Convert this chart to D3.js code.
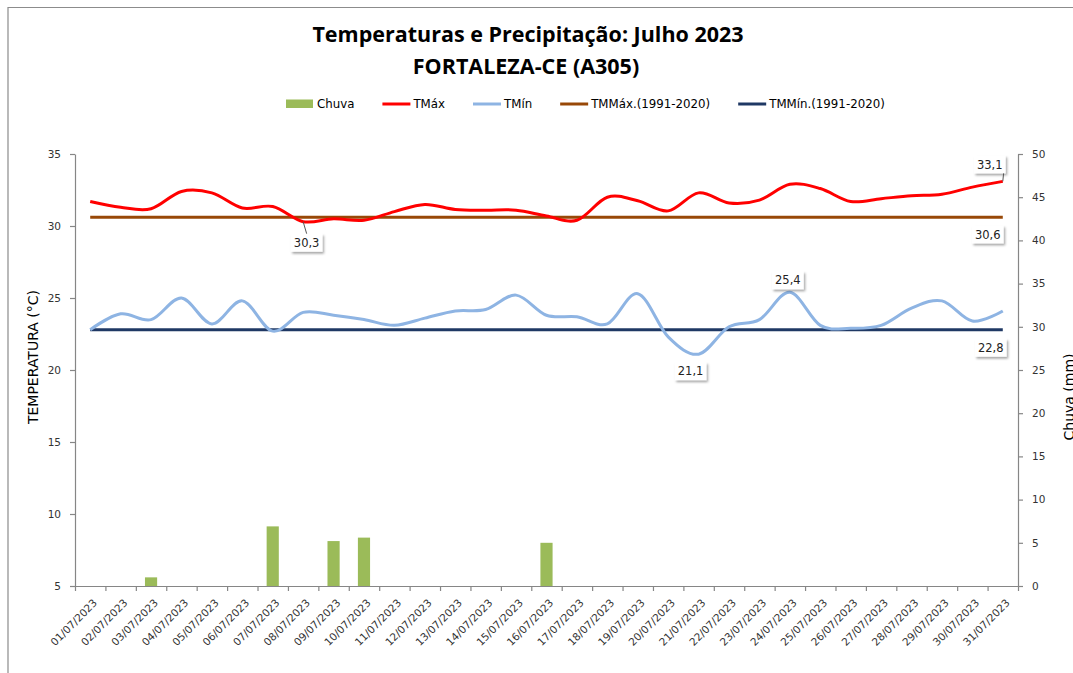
<!DOCTYPE html>
<html>
<head>
<meta charset="utf-8">
<script src="https://cdn.jsdelivr.net/npm/d3@7"></script>
<style>
    body { margin: 0; background: #fff; }
    svg { display: block; }
</style>
</head>
<body>
<div id="chart"></div>
<script>
// dias do mes (rotulos do eixo x)
var dias = ["01/07/2023", "02/07/2023", "03/07/2023", "04/07/2023", "05/07/2023", "06/07/2023",
    "07/07/2023", "08/07/2023", "09/07/2023", "10/07/2023", "11/07/2023", "12/07/2023",
    "13/07/2023", "14/07/2023", "15/07/2023", "16/07/2023", "17/07/2023", "18/07/2023",
    "19/07/2023", "20/07/2023", "21/07/2023", "22/07/2023", "23/07/2023", "24/07/2023",
    "25/07/2023", "26/07/2023", "27/07/2023", "28/07/2023", "29/07/2023", "30/07/2023",
    "31/07/2023"];

var tmax = [31.7, 31.3, 31.2, 32.4, 32.3, 31.25, 31.35, 30.3, 30.5, 30.4, 31.0, 31.5, 31.15, 31.1, 31.1, 30.7,
    30.4, 32.0, 31.75, 31.05, 32.3, 31.6, 31.8, 32.9, 32.6, 31.7, 31.9, 32.1, 32.2, 32.7, 33.1];

var tmin = [22.8, 23.9, 23.5, 25.0, 23.2, 24.8, 22.7, 24.0, 23.8, 23.5, 23.1, 23.6, 24.1, 24.2, 25.2, 23.8,
    23.7, 23.2, 25.3, 22.3, 21.1, 23.0, 23.5, 25.4, 23.1, 22.9, 23.1, 24.3, 24.8, 23.4, 24.1];

var chuva = [0, 0, 1.0, 0, 0, 0, 6.9, 0, 5.2, 5.6, 0, 0, 0, 0, 0, 5.0,
    0, 0, 0, 0, 0, 0, 0, 0, 0, 0, 0, 0, 0, 0, 0];

var tmmax_normal = 30.6;
var tmmin_normal = 22.8;

var temp_ticks = [5, 10, 15, 20, 25, 30, 35];
var chuva_ticks = [0, 5, 10, 15, 20, 25, 30, 35, 40, 45, 50];

var legenda = ["Chuva", "TMáx", "TMín", "TMMáx.(1991-2020)", "TMMín.(1991-2020)"];

var cores = {
    chuva: "#9bbb59",
    tmax: "#ff0000",
    tmin: "#8eb4e3",
    tmmax: "#984807",
    tmmin: "#1f3864"
};

var width = 1073;
var height = 673;
var plot = {left: 75, right: 1018, top: 154, bottom: 586};
var tick_font = "DejaVu Sans";

var svg = d3.select("#chart").append("svg")
    .attr("width", width)
    .attr("height", height);

var defs = svg.append("defs");
var sombra = defs.append("filter")
    .attr("id", "sombra")
    .attr("x", "-30%").attr("y", "-30%")
    .attr("width", "160%").attr("height", "160%");
sombra.append("feDropShadow")
    .attr("dx", 1.5).attr("dy", 2)
    .attr("stdDeviation", 1.2)
    .attr("flood-color", "#000")
    .attr("flood-opacity", 0.35);

// moldura do grafico (so topo e esquerda aparecem)
svg.append("path")
    .attr("d", "M8,673 V7.5 H1073")
    .attr("fill", "none")
    .attr("stroke", "#8c8c8c")
    .attr("stroke-width", 1.2);

// titulo
var titulo = svg.append("text")
    .attr("x", 528)
    .attr("text-anchor", "middle")
    .attr("font-family", "'Open Sans', Lato, sans-serif")
    .attr("font-weight", "bold")
    .attr("font-size", 21.5)
    .attr("fill", "#000");
titulo.append("tspan").attr("x", 528).attr("y", 42).text("Temperaturas e Precipitação: Julho 2023");
titulo.append("tspan").attr("x", 526).attr("y", 74).text("FORTALEZA-CE (A305)");

// escalas
var x_band = d3.scaleLinear()
    .domain([0, dias.length])
    .range([plot.left, plot.right]);

var x = d3.scalePoint()
    .domain(dias)
    .range([plot.left, plot.right])
    .padding(0.5);

var x_bar = d3.scaleBand()
    .domain(dias)
    .range([plot.left, plot.right])
    .paddingInner(0.6)
    .paddingOuter(0.3);

var y_temp = d3.scaleLinear()
    .domain([5, 35])
    .range([plot.bottom, plot.top]);

var y_chuva = d3.scaleLinear()
    .domain([0, 50])
    .range([plot.bottom, plot.top]);

// barras de chuva
svg.append("g")
    .attr("id", "barras")
    .selectAll("rect")
    .data(chuva)
    .enter()
    .append("rect")
    .attr("x", function(d, i) { return x_bar(dias[i]); })
    .attr("width", x_bar.bandwidth())
    .attr("y", function(d) { return y_chuva(d); })
    .attr("height", function(d) { return y_chuva(0) - y_chuva(d); })
    .attr("fill", cores.chuva);

// eixos
function estilo_eixo(g) {
    g.select(".domain").attr("stroke", "#868686").attr("stroke-width", 1.2);
    g.selectAll(".tick line").attr("stroke", "#868686").attr("stroke-width", 1.2);
    g.selectAll(".tick text")
        .attr("font-family", tick_font)
        .attr("font-size", 10.5)
        .attr("fill", "#333");
}

svg.append("g")
    .attr("transform", "translate(" + plot.left + ",0)")
    .call(d3.axisLeft(y_temp).tickValues(temp_ticks).tickSize(5).tickPadding(9).tickSizeOuter(0))
    .call(estilo_eixo);

svg.append("g")
    .attr("transform", "translate(" + plot.right + ",0)")
    .call(d3.axisRight(y_chuva).tickValues(chuva_ticks).tickSize(5).tickPadding(9).tickSizeOuter(0))
    .call(estilo_eixo);

var eixo_x = svg.append("g")
    .attr("transform", "translate(0," + plot.bottom + ")")
    .call(d3.axisBottom(x_band).tickValues(d3.range(dias.length + 1)).tickSize(5).tickFormat("").tickSizeOuter(0))
    .call(estilo_eixo);

svg.append("g")
    .attr("id", "rotulos_x")
    .selectAll("text")
    .data(dias)
    .enter()
    .append("text")
    .attr("transform", function(d) {
        return "translate(" + (x(d) + 5) + "," + (plot.bottom + 15) + ") rotate(-45)";
    })
    .attr("text-anchor", "end")
    .attr("dy", "0.35em")
    .attr("font-family", tick_font)
    .attr("font-size", 10.5)
    .attr("fill", "#333")
    .text(function(d) { return d; });

// titulos dos eixos
svg.append("text")
    .attr("transform", "translate(37.5,357) rotate(-90)")
    .attr("text-anchor", "middle")
    .attr("font-family", tick_font)
    .attr("font-size", 14)
    .attr("fill", "#000")
    .text("TEMPERATURA (°C)");

// no original este titulo fica cortado na borda direita
svg.append("text")
    .attr("transform", "translate(1073.5,397) rotate(-90)")
    .attr("text-anchor", "middle")
    .attr("font-family", tick_font)
    .attr("font-size", 14)
    .attr("fill", "#000")
    .text("Chuva (mm)");

// linhas das normais
var linha = d3.line()
    .x(function(d, i) { return x(dias[i]); })
    .y(function(d) { return y_temp(d); });

var suave = d3.line()
    .x(function(d, i) { return x(dias[i]); })
    .y(function(d) { return y_temp(d); })
    .curve(d3.curveCatmullRom.alpha(0));

svg.append("path")
    .attr("d", linha(dias.map(function() { return tmmax_normal; })))
    .attr("fill", "none")
    .attr("stroke", cores.tmmax)
    .attr("stroke-width", 3);

svg.append("path")
    .attr("d", linha(dias.map(function() { return tmmin_normal; })))
    .attr("fill", "none")
    .attr("stroke", cores.tmmin)
    .attr("stroke-width", 3);

svg.append("path")
    .attr("d", suave(tmin))
    .attr("fill", "none")
    .attr("stroke", cores.tmin)
    .attr("stroke-width", 3);

svg.append("path")
    .attr("d", suave(tmax))
    .attr("fill", "none")
    .attr("stroke", cores.tmax)
    .attr("stroke-width", 3);

// rotulos de dados (posicao relativa ao ponto)
var rotulos = [
    {serie: tmax, i: 7, dx: 3.5, dy: 21, lider: true},
    {serie: tmax, i: 30, dx: -13, dy: -17, lider: true},
    {serie: dias.map(function() { return tmmax_normal; }), i: 30, dx: -15, dy: 17, lider: false},
    {serie: tmin, i: 23, dx: -2, dy: -12, lider: false},
    {serie: tmin, i: 20, dx: -8, dy: 17, lider: false},
    {serie: dias.map(function() { return tmmin_normal; }), i: 30, dx: -12, dy: 18, lider: false}
];

var g_rot = svg.append("g").attr("id", "rotulos");

rotulos.forEach(function(r) {
    var px = x(dias[r.i]);
    var py = y_temp(r.serie[r.i]);
    var cx = px + r.dx;
    var cy = py + r.dy;
    var txt = d3.format(".1f")(r.serie[r.i]).replace(".", ",");

    var g = g_rot.append("g");
    var t = g.append("text")
        .attr("x", cx)
        .attr("y", cy)
        .attr("dy", "0.36em")
        .attr("text-anchor", "middle")
        .attr("font-family", tick_font)
        .attr("font-size", 11.5)
        .attr("fill", "#222")
        .text(txt);
    var w = t.node().getComputedTextLength() + 6;
    var h = 18;
    g.insert("rect", "text")
        .attr("x", cx - w / 2)
        .attr("y", cy - h / 2)
        .attr("width", w)
        .attr("height", h)
        .attr("fill", "#fff")
        .attr("filter", "url(#sombra)");
    if (r.lider) {
        var ly = r.dy > 0 ? cy - h / 2 : cy + h / 2;
        var lx = r.dy > 0 ? cx : cx + w / 2 - 2;
        g.append("line")
            .attr("x1", px).attr("y1", py)
            .attr("x2", lx).attr("y2", ly)
            .attr("stroke", "#555")
            .attr("stroke-width", 1);
    }
});

// legenda
var leg_tipos = ["rect", "line", "line", "line", "line"];
var leg_cores = [cores.chuva, cores.tmax, cores.tmin, cores.tmmax, cores.tmmin];
var leg = svg.append("g").attr("id", "legenda");
var lx = 286;
legenda.forEach(function(nome, i) {
    if (leg_tipos[i] === "rect") {
        leg.append("rect")
            .attr("x", lx).attr("y", 99.5)
            .attr("width", 27).attr("height", 8.5)
            .attr("fill", leg_cores[i]);
    } else {
        leg.append("line")
            .attr("x1", lx).attr("x2", lx + 28)
            .attr("y1", 104).attr("y2", 104)
            .attr("stroke", leg_cores[i])
            .attr("stroke-width", 3);
    }
    var t = leg.append("text")
        .attr("x", lx + 31)
        .attr("y", 108)
        .attr("font-family", tick_font)
        .attr("font-size", 11.8)
        .attr("fill", "#000")
        .text(nome);
    lx = lx + 31 + t.node().getComputedTextLength() + 28;
});
</script>
</body>
</html>
